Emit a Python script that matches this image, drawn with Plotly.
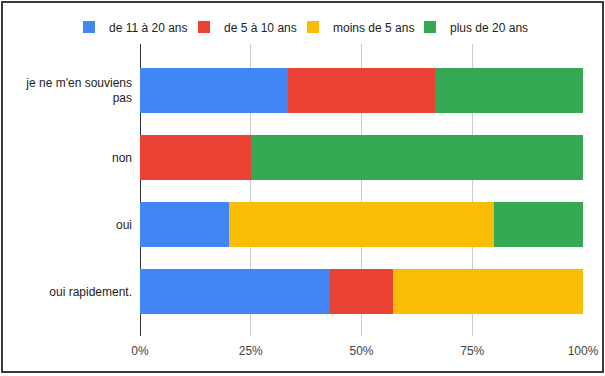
import plotly.graph_objects as go

categories = ["je ne m'en souviens<br>pas", "non", "oui", "oui rapidement."]
series_names = ["de 11 à 20 ans", "de 5 à 10 ans", "moins de 5 ans", "plus de 20 ans"]
colors = ["#4285F4", "#EA4335", "#FBBC04", "#34A853"]
v_11_20 = [1/3, 0, 0.20, 3/7]
v_5_10 = [1/3, 0.25, 0, 1/7]
v_moins5 = [0, 0, 0.60, 3/7]
v_plus20 = [1/3, 0.75, 0.20, 0]
values = [v_11_20, v_5_10, v_moins5, v_plus20]
x_ticks = [0, 0.25, 0.5, 0.75, 1.0]
x_tick_labels = ["0%", "25%", "50%", "75%", "100%"]

W, H = 605, 376
L, R, T, B = 140, 583, 44, 336
C0, PITCH = 90.5, 67.0
legend_px = [69, 184, 293, 410]
legend_ids = ["legend", "legend2", "legend3", "legend4"]

fig = go.Figure()
for name, col, vals, lid in zip(series_names, colors, values, legend_ids):
    fig.add_trace(go.Bar(
        y=list(range(len(categories))), x=vals, name=name, orientation="h",
        marker=dict(color=col, line=dict(width=0)), width=0.66, legend=lid,
    ))

def px(x):
    return (x - L) / (R - L)
def py(y):
    return (B - y) / (B - T)

legend_common = dict(orientation="h", xref="container", yref="container",
                     xanchor="left", y=1 - 27 / H, yanchor="middle",
                     font=dict(size=12, color="#222222"), itemwidth=30,
                     bgcolor="rgba(0,0,0,0)")
legend_layout = {lid: dict(legend_common, x=lx / W) for lid, lx in zip(legend_ids, legend_px)}

fig.update_layout(
    width=W, height=H, barmode="stack",
    margin=dict(l=L, r=W - R, t=T, b=H - B, pad=0, autoexpand=False),
    paper_bgcolor="white", plot_bgcolor="white",
    font=dict(family="Liberation Sans, Arial, sans-serif", size=12, color="#222222"),
    xaxis=dict(range=[0, 1], tickvals=x_ticks, ticktext=x_tick_labels,
               showgrid=True, gridcolor="#cccccc", gridwidth=1,
               zeroline=True, zerolinecolor="#333333", zerolinewidth=1,
               showline=False, ticks="", tickfont=dict(size=12, color="#444444"),
               ticklabelstandoff=6, fixedrange=True, automargin=False),
    yaxis=dict(range=[(B - C0) / PITCH, (T - C0) / PITCH],
               tickvals=list(range(len(categories))), ticktext=categories,
               showgrid=False, zeroline=False, showline=False, ticks="",
               tickfont=dict(size=12, color="#222222"), ticklabelstandoff=7,
               automargin=False, fixedrange=True),
    showlegend=True,
    shapes=[dict(type="rect", xref="paper", yref="paper",
                 x0=px(2), x1=px(603), y0=py(372), y1=py(2),
                 line=dict(color="#3a3a3a", width=2), fillcolor="rgba(0,0,0,0)", layer="above")],
    **legend_layout,
)

fig.write_html("out.html", config={"displayModeBar": False},
               post_script="document.body.style.margin='0';document.body.style.padding='0';")
